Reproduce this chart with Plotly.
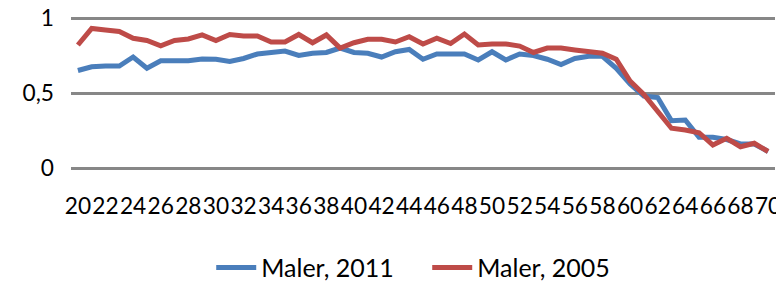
import plotly.graph_objects as go

ages = list(range(20, 71))

maler_2011 = [0.65, 0.675, 0.68, 0.68, 0.74, 0.665, 0.715, 0.715, 0.715, 0.727,
              0.725, 0.71, 0.73, 0.76, 0.77, 0.78, 0.75, 0.765, 0.77, 0.80,
              0.77, 0.765, 0.74, 0.775, 0.79, 0.725, 0.76, 0.76, 0.76, 0.72,
              0.775, 0.72, 0.76, 0.75, 0.725, 0.69, 0.73, 0.745, 0.745, 0.665,
              0.56, 0.48, 0.47, 0.315, 0.32, 0.205, 0.205, 0.19, 0.16, 0.16,
              0.11]

maler_2005 = [0.82, 0.93, 0.92, 0.91, 0.865, 0.85, 0.815, 0.85, 0.86, 0.887,
              0.85, 0.89, 0.88, 0.88, 0.84, 0.84, 0.89, 0.835, 0.887, 0.80,
              0.835, 0.858, 0.858, 0.84, 0.875, 0.827, 0.865, 0.83, 0.893, 0.82,
              0.827, 0.827, 0.813, 0.77, 0.80, 0.80, 0.787, 0.776, 0.765, 0.725,
              0.58, 0.49, 0.375, 0.265, 0.253, 0.235, 0.153, 0.198, 0.142, 0.165,
              0.11]

x_tick_vals = list(range(20, 71, 2))
x_tick_text = [str(v) for v in x_tick_vals]
y_tick_vals = [0, 0.5, 1]
y_tick_text = ["0", "0,5", "1"]

FONT = "Lato"
FS = 22.7

fig = go.Figure()
fig.add_trace(go.Scatter(x=ages, y=maler_2011, mode="lines", name="Maler, 2011",
                         line=dict(color="#4a7ebb", width=5)))
fig.add_trace(go.Scatter(x=ages, y=maler_2005, mode="lines", name="Maler, 2005",
                         line=dict(color="#be4b48", width=5)))

# The page body adds an 8px margin, so the figure is 8px smaller than the window
fig.update_layout(
    width=776, height=277,
    margin=dict(l=63, r=9, t=7, b=114, autoexpand=False),
    paper_bgcolor="white", plot_bgcolor="white",
    font=dict(family=FONT, size=FS, color="black"),
    showlegend=True,
    legend=dict(orientation="h", x=0.506, xanchor="center", y=-0.62, yanchor="middle",
                font=dict(family=FONT, size=25, color="black"),
                itemwidth=40, tracegroupgap=0, entrywidth=161),
)
fig.update_xaxes(range=[19.5, 70.5], tickmode="array", tickvals=x_tick_vals,
                 ticktext=x_tick_text, tickangle=0, showgrid=False, zeroline=False,
                 showline=False, ticks="", ticklabelstandoff=19, automargin=False,
                 ticklabeloverflow="allow",
                 tickfont=dict(family=FONT, size=FS, color="black"))
fig.update_yaxes(range=[-0.02, 1.02], tickmode="array", tickvals=y_tick_vals,
                 ticktext=y_tick_text, showgrid=True, gridcolor="#878787", gridwidth=3,
                 zeroline=False, showline=False, ticks="", ticklabelstandoff=16,
                 automargin=False, ticklabeloverflow="allow",
                 tickfont=dict(family=FONT, size=FS, color="black"))

fig.write_html("out.html")
